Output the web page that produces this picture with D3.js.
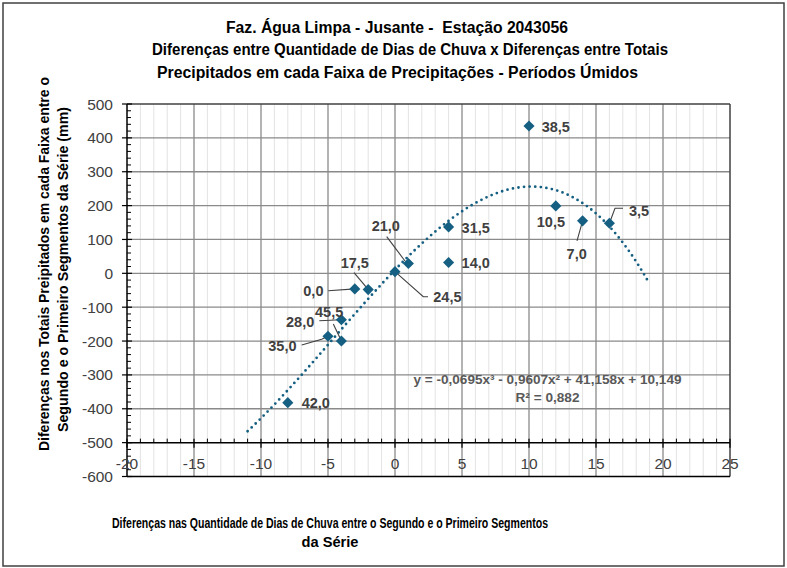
<!DOCTYPE html>
<html><head><meta charset="utf-8">
<script src="https://cdn.jsdelivr.net/npm/d3@7"></script>
<style>
html,body{margin:0;padding:0;background:#fff;}
svg{display:block;}
text{font-family:"Liberation Sans",Arial,sans-serif; white-space:pre;}
.narrow{font-family:"Liberation Sans Narrow","Arial Narrow","Liberation Sans",sans-serif;}
</style></head>
<body>
<script>
// ---- data ----
const titleLines = ["Faz. Água Limpa - Jusante -  Estação 2043056",
  "Diferenças entre Quantidade de Dias de Chuva x Diferenças entre Totais",
  "Precipitados em cada Faixa de Precipitações - Períodos Úmidos"];
const yTitleLines = ["Diferenças nos Totais Preipitados em cada Faixa entre o",
  "Segundo e o Primeiro Segmentos da Série (mm)"];
const xTitleLines = ["Diferenças nas Quantidade de Dias de Chuva entre o Segundo e o Primeiro Segmentos",
  "da Série"];
const xValues = [10, 12, 14, 16, 4, 4, 1, 0, -2, -3, -4, -4, -5, -8];
const yValues = [435, 199, 155, 148, 137, 32, 29, 5, -48, -46, -137, -200, -186, -382];
const pointLabels = ["38,5","10,5","7,0","3,5","31,5","14,0","21,0","24,5","17,5","0,0","28,0","45,5","35,0","42,0"];
const xTicks = [-20, -15, -10, -5, 0, 5, 10, 15, 20, 25];
const yTicks = [-600, -500, -400, -300, -200, -100, 0, 100, 200, 300, 400, 500];
const trendCoefs = [-0.0695, -0.9607, 41.158, 10.149]; // x^3, x^2, x, 1
const trendRange = [-11, 18.8];
const equationText = "y = -0,0695x³ - 0,9607x² + 41,158x + 10,149";
const r2Text = "R² = 0,882";

// ---- layout (label offsets relative to marker, px) ----
const labelLayout = [
  {dx:12.7, dy:5.5},
  {dx:-19, dy:21},
  {dx:-16, dy:38, leader:[[-5.6,20],[0,0]]},
  {dx:19.6, dy:-7.7, leader:[[0,0],[5.6,-14.9],[13.6,-14.9]]},
  {dx:13, dy:5.6},
  {dx:13, dy:5.5},
  {dx:-36.7, dy:-32, leader:[[-21.7,-26.8],[-3.4,-2.5]]},
  {dx:38.3, dy:30, leader:[[0,0],[28.3,25.1],[33,25.1]]},
  {dx:-27.5, dy:-21.3, leader:[[-14.2,-16.9],[-2.2,-2.6]]},
  {dx:-51.5, dy:7, leader:[[-26.5,1.8],[0,0]]},
  {dx:-55.4, dy:7.6, leader:[[-22.1,1],[0,0]]},
  {dx:-26.4, dy:-24.3, leader:[[-8.1,-17],[-1.4,-3]]},
  {dx:-59.7, dy:14.7, leader:[[-26.3,8.7],[-6.3,3],[0,0]]},
  {dx:13.9, dy:5.6}
];

const W = 787, H = 568;
const svg = d3.select("body").append("svg").attr("width", W).attr("height", H);

// outer border
svg.append("rect").attr("x",3).attr("y",3).attr("width",781).attr("height",563)
  .attr("fill","#fff").attr("stroke","#404040").attr("stroke-width",1.5);

const x = d3.scaleLinear().domain([-20, 25]).range([127, 730]);
const y = d3.scaleLinear().domain([-600, 500]).range([476.5, 104]);

// minor vertical gridlines
const g = svg.append("g");
g.selectAll(".vmin").data(d3.range(-19, 25, 1).filter(v => v % 5 !== 0)).join("line")
  .attr("x1", d => x(d)).attr("x2", d => x(d)).attr("y1", y(500)).attr("y2", y(-600))
  .attr("stroke", "#e3e3e3").attr("stroke-width", 1);
// major vertical gridlines
g.selectAll(".vmaj").data(xTicks.filter(v => v > -20 && v < 25)).join("line")
  .attr("x1", d => x(d)).attr("x2", d => x(d)).attr("y1", y(500)).attr("y2", y(-600))
  .attr("stroke", "#8a8a8a").attr("stroke-width", 1.3);
// horizontal gridlines
g.selectAll(".hmaj").data(yTicks.filter(v => v > -600 && v < 500 && v !== -500)).join("line")
  .attr("x1", x(-20)).attr("x2", x(25)).attr("y1", d => y(d)).attr("y2", d => y(d))
  .attr("stroke", "#8a8a8a").attr("stroke-width", 1.3);

// plot border lines
g.append("line").attr("x1", x(-20)).attr("x2", x(25)).attr("y1", y(500)).attr("y2", y(500))
  .attr("stroke", "#404040").attr("stroke-width", 1.5);
g.append("line").attr("x1", x(25)).attr("x2", x(25)).attr("y1", y(500)).attr("y2", y(-600))
  .attr("stroke", "#404040").attr("stroke-width", 1.5);
g.append("line").attr("x1", x(-20)).attr("x2", x(25)).attr("y1", y(-600)).attr("y2", y(-600))
  .attr("stroke", "#000").attr("stroke-width", 1.5);

// y axis
const yAxis = svg.append("g");
yAxis.append("line").attr("x1", x(-20)).attr("x2", x(-20)).attr("y1", y(500)).attr("y2", y(-600))
  .attr("stroke", "#000").attr("stroke-width", 1.5);
yAxis.selectAll(".ymin").data(d3.range(-600, 501, 20).filter(v => v % 100 !== 0)).join("line")
  .attr("x1", x(-20)).attr("x2", x(-20) + 4).attr("y1", d => y(d)).attr("y2", d => y(d))
  .attr("stroke", "#000").attr("stroke-width", 1);
yAxis.selectAll(".ymaj").data(yTicks).join("line")
  .attr("x1", x(-20) - 5).attr("x2", x(-20) + 5).attr("y1", d => y(d)).attr("y2", d => y(d))
  .attr("stroke", "#000").attr("stroke-width", 1.2);
yAxis.selectAll(".ylab").data(yTicks).join("text")
  .attr("x", 113).attr("y", d => y(d)).attr("dy", "0.36em").attr("text-anchor", "end")
  .attr("font-size", 15.5).attr("fill", "#404040").text(d => String(d));

// x axis at y=-500
const xAxis = svg.append("g");
xAxis.append("line").attr("x1", x(-20)).attr("x2", x(25)).attr("y1", y(-500)).attr("y2", y(-500))
  .attr("stroke", "#000").attr("stroke-width", 1.5);
xAxis.selectAll(".xmin").data(d3.range(-20, 26, 1).filter(v => v % 5 !== 0)).join("line")
  .attr("x1", d => x(d)).attr("x2", d => x(d)).attr("y1", y(-500)).attr("y2", y(-500) - 4)
  .attr("stroke", "#000").attr("stroke-width", 1);
xAxis.selectAll(".xmaj").data(xTicks).join("line")
  .attr("x1", d => x(d)).attr("x2", d => x(d)).attr("y1", y(-500) - 4).attr("y2", y(-500) + 5)
  .attr("stroke", "#000").attr("stroke-width", 1.2);
xAxis.selectAll(".xlab").data(xTicks).join("text")
  .attr("x", d => x(d)).attr("y", 468.5).attr("text-anchor", "middle")
  .attr("font-size", 15.5).attr("fill", "#404040").text(d => String(d));

// trendline
const trendX = d3.range(trendRange[0], trendRange[1] + 0.001, 0.05);
const poly = t => trendCoefs[0]*t*t*t + trendCoefs[1]*t*t + trendCoefs[2]*t + trendCoefs[3];
svg.append("path").datum(trendX)
  .attr("d", d3.line().x(d => x(d)).y(d => y(poly(d))))
  .attr("fill", "none").attr("stroke", "#156082").attr("stroke-width", 2.8)
  .attr("stroke-linecap", "round").attr("stroke-dasharray", "0 5.6");

// leader lines
const pts = xValues.map((v, i) => ({x: v, y: yValues[i], label: pointLabels[i], lay: labelLayout[i]}));
const lineGen = d3.line();
svg.selectAll(".leader").data(pts.filter(p => p.lay.leader)).join("path")
  .attr("d", p => lineGen(p.lay.leader.map(([a, b]) => [x(p.x) + a, y(p.y) + b])))
  .attr("fill", "none").attr("stroke", "#404040").attr("stroke-width", 1.1);

// markers
svg.selectAll(".pt").data(pts).join("path")
  .attr("d", d3.symbol(d3.symbolSquare, 62))
  .attr("transform", p => `translate(${x(p.x)},${y(p.y)}) rotate(45)`)
  .attr("fill", "#156082");

// data labels
svg.selectAll(".dl").data(pts).join("text")
  .attr("x", p => x(p.x) + p.lay.dx).attr("y", p => y(p.y) + p.lay.dy)
  .attr("font-size", 14.5).attr("font-weight", "bold").attr("fill", "#404040")
  .text(p => p.label);

// equation
svg.append("text").attr("x", 547.5).attr("y", 384).attr("text-anchor", "middle")
  .attr("font-size", 12.5).attr("font-weight", "bold").attr("fill", "#595959")
  .attr("textLength", 268).attr("lengthAdjust", "spacingAndGlyphs").text(equationText);
svg.append("text").attr("x", 547.5).attr("y", 402).attr("text-anchor", "middle")
  .attr("font-size", 12.5).attr("font-weight", "bold").attr("fill", "#595959")
  .attr("textLength", 64).attr("lengthAdjust", "spacingAndGlyphs").text(r2Text);

// titles
const titleWidths = [342, 516, 481];
const titleX = [397, 410, 397.5];
const titleY = [33, 55, 78];
titleLines.forEach((t, i) => {
  svg.append("text").attr("x", titleX[i]).attr("y", titleY[i]).attr("text-anchor", "middle")
    .attr("font-size", 16).attr("font-weight", "bold").attr("fill", "#000")
    .attr("textLength", titleWidths[i]).attr("lengthAdjust", "spacingAndGlyphs").text(t);
});

// y title
const yTitleW = [374, 325];
const yTitleC = [264, 269.5];
const yTitleBase = [49, 68];
yTitleLines.forEach((t, i) => {
  svg.append("text").attr("class", "narrow")
    .attr("transform", `translate(${yTitleBase[i]},${yTitleC[i]}) rotate(-90)`)
    .attr("text-anchor", "middle").attr("font-size", 15.5).attr("font-weight", "bold").attr("fill", "#000")
    .attr("textLength", yTitleW[i]).attr("lengthAdjust", "spacingAndGlyphs").text(t);
});

// x title
const xTitleW = [436, 57];
const xTitleY = [527.5, 547.3];
xTitleLines.forEach((t, i) => {
  svg.append("text").attr("class", "narrow").attr("x", 330).attr("y", xTitleY[i]).attr("text-anchor", "middle")
    .attr("font-size", 15.5).attr("font-weight", "bold").attr("fill", "#000")
    .attr("textLength", xTitleW[i]).attr("lengthAdjust", "spacingAndGlyphs").text(t);
});
</script>
</body></html>
